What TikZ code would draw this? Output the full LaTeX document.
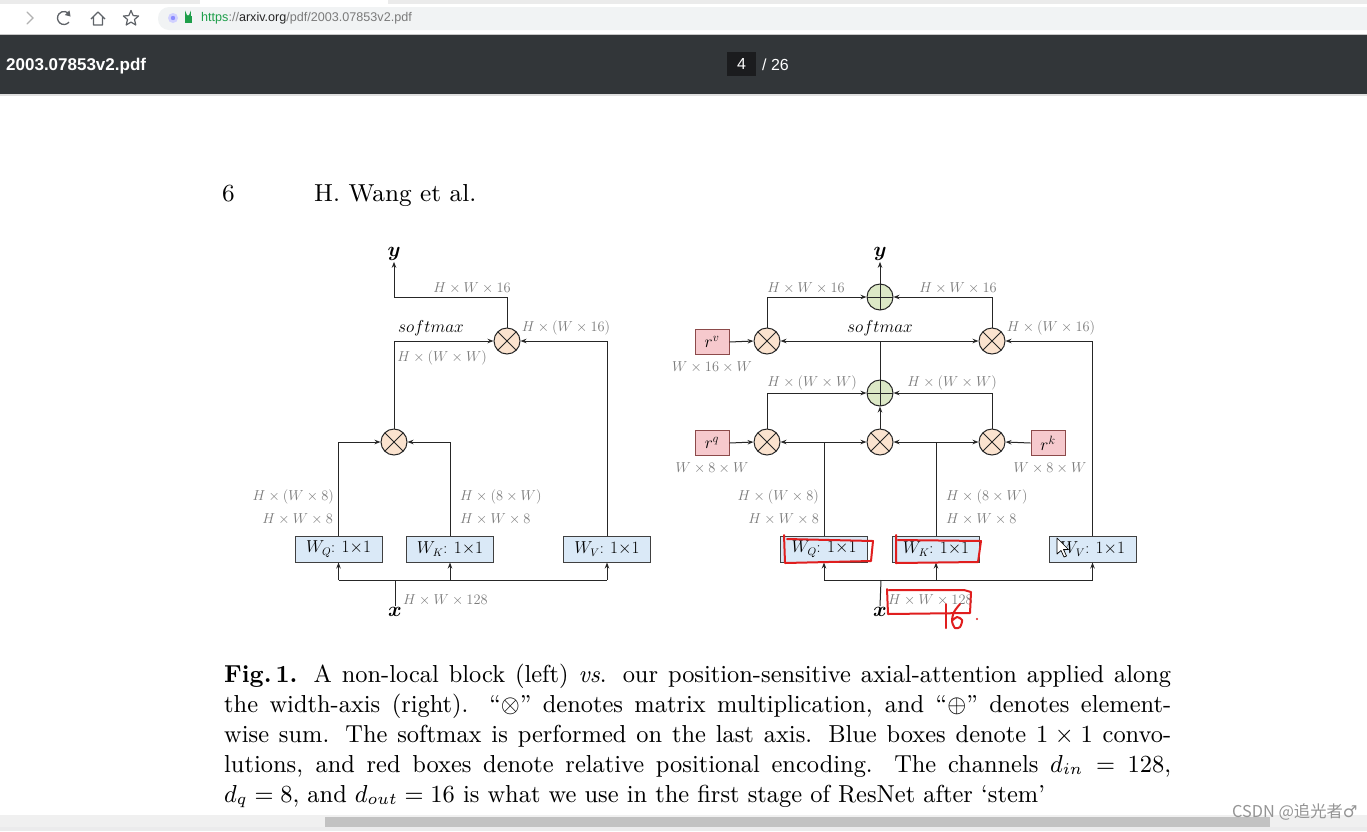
\documentclass[tikz,border=0pt]{standalone}
\usepackage{fontspec}
\usepackage{bm}
\usetikzlibrary{arrows.meta,calc}
\newfontfamily\uisans{Liberation Sans}
\newfontfamily\cjkfont{Noto Sans CJK SC}
\newfontfamily\symfont{DejaVu Sans}
\definecolor{convblue}{HTML}{DAE9F7}
\definecolor{mulfill}{HTML}{FBE3CF}
\definecolor{addfill}{HTML}{DCE8C6}
\definecolor{rpink}{HTML}{F6C9CD}
\definecolor{rdark}{HTML}{8C4A4A}
\definecolor{labgray}{HTML}{7A7A7A}
\definecolor{annored}{HTML}{E01E1E}
\definecolor{darkbar}{HTML}{323639}
\definecolor{pagebox}{HTML}{1B1C1E}
\definecolor{omni}{HTML}{F1F3F4}
\definecolor{urlgreen}{HTML}{1E9E4A}
\definecolor{urlgray}{HTML}{7A7A7A}
\definecolor{icongray}{HTML}{5F6368}
\newcommand{\capline}[1]{\scalebox{2.64}[2.73]{\fontsize{9}{11}\selectfont\makebox[358.7pt][s]{#1}}}
\newcommand{\caplast}[1]{\scalebox{2.64}[2.73]{\fontsize{9}{11}\selectfont #1}}
\newcommand{\headtxt}[1]{\scalebox{2.73}{\fontsize{9}{11}\selectfont #1}}
\begin{document}
\begin{tikzpicture}[x=1pt,y=-1pt,
  ln/.style={line width=1pt, draw=black!85},
  arr/.style={ln, -{Stealth[length=6pt,width=4.5pt]}},
  darr/.style={ln, {Stealth[length=6pt,width=4.5pt]}-{Stealth[length=6pt,width=4.5pt]}},
  conv/.style={draw=black!75, line width=1pt, fill=convblue, minimum width=87pt, minimum height=26pt, inner sep=0pt, font=\fontsize{16}{16}\selectfont},
  rbox/.style={draw=rdark, line width=1pt, fill=rpink, minimum width=34pt, minimum height=25pt, inner sep=0pt, font=\fontsize{17}{17}\selectfont},
  mul/.style={circle, draw=black!85, line width=1pt, fill=mulfill, minimum size=26pt, inner sep=0pt,
    path picture={\draw[line width=1pt, black!85] (path picture bounding box.north west) -- (path picture bounding box.south east) (path picture bounding box.north east) -- (path picture bounding box.south west);}},
  addn/.style={circle, draw=black!85, line width=1pt, fill=addfill, minimum size=26pt, inner sep=0pt,
    path picture={\draw[line width=1pt, black!85] (path picture bounding box.north) -- (path picture bounding box.south) (path picture bounding box.east) -- (path picture bounding box.west);}},
  lab/.style={text=labgray, font=\fontsize{14}{14}\selectfont, inner sep=0pt},
  sm/.style={font=\fontsize{17}{17}\selectfont, inner sep=0pt},
  io/.style={font=\fontsize{20}{20}\selectfont, inner sep=1pt},
  anno/.style={draw=annored, line width=2pt, line cap=round, line join=round},
  captxt/.style={anchor=base west, inner sep=0pt},
]
\useasboundingbox (0,0) rectangle (1367,831);
\fill[white] (0,0) rectangle (1367,831);
% ---------- browser chrome ----------
\fill[black!8] (0,0) rectangle (1367,4);
\fill[white] (200,0) rectangle (388,4);
\fill[omni] (158,7) [rounded corners=11pt] rectangle (1380,30);
\draw[black!22, line width=0.8pt] (0,34) -- (1367,34);
\draw[black!30, line width=1.3pt, line cap=round] (27,12) -- (33,18) -- (27,24);
\draw[icongray, line width=1.3pt] (64,18) ++(40:6.5) arc[start angle=40, end angle=330, radius=6.5];
\fill[icongray] (69.5,10.5) -- (70.5,16.5) -- (64.8,15) -- cycle;
\draw[icongray, line width=1.3pt, line join=round] (91,19) -- (98,12) -- (105,19) (93.5,17) -- (93.5,25) -- (102.5,25) -- (102.5,17);
\draw[icongray, line width=1.2pt, line join=round] (131,10.5) -- (133.2,15.6) -- (138.6,16.0) -- (134.5,19.5) -- (135.8,25) -- (131,22.1) -- (126.2,25) -- (127.5,19.5) -- (123.4,16.0) -- (128.8,15.6) -- cycle;
\fill[blue!18] (173,18) circle[radius=5];
\fill[blue!45] (173,18) circle[radius=2.2];
\fill[urlgreen] (184.5,16) rectangle (191.5,22.5);
\draw[urlgreen, line width=1.3pt] (185.8,16) -- (185.8,14) arc[start angle=180, end angle=0, radius=2.2] -- (190.2,16);
\node[anchor=west, inner sep=0pt, font=\uisans\fontsize{12.6}{12.6}\selectfont] (url) at (201,18)
  {\textcolor{urlgreen}{https}\textcolor{urlgray}{://}\textcolor{black!85}{arxiv.org}\textcolor{urlgray}{/pdf/2003.07853v2.pdf}};
\fill[darkbar] (0,35) rectangle (1367,94);
\fill[black!12] (0,94) rectangle (1367,96);
\node[anchor=base west, inner sep=0pt, text=white, font=\uisans\bfseries\fontsize{17}{17}\selectfont] (fname) at (6,70) {2003.07853v2.pdf};
\node[fill=pagebox, minimum width=29pt, minimum height=24pt, inner sep=0pt, text=white, font=\uisans\fontsize{16}{16}\selectfont] (pg) at (741.5,64) {4};
\node[anchor=base west, inner sep=0pt, text=white, font=\uisans\fontsize{16}{16}\selectfont] (pgtot) at (762,70) {/ 26};
% ---------- page header ----------
\node[captxt] (pnum) at (222,201) {\headtxt{6}};
\node[captxt] (runh) at (314,201) {\headtxt{H. Wang et al.}};
% ---------- left diagram ----------
\node[conv] (WQ) at (338.5,549) {$W_Q$: $1{\times}1$};
\node[conv] (WK) at (450,549) {$W_K$: $1{\times}1$};
\node[conv] (WV) at (607,549) {$W_V$: $1{\times}1$};
\node[mul] (mulL) at (394,442) {};
\node[mul] (mulT) at (507,341) {};
\node[io] (yL) at (394,254) {$\bm{y}$};
\node[io] (xL) at (395,612) {$\bm{x}$};
\coordinate (bL) at (395,580);
\coordinate (tL) at (507,297);
\draw[arr] (WQ.north) |- (mulL.west);
\draw[arr] (WK.north) |- (mulL.east);
\draw[arr] (mulL.north) |- (mulT.west);
\draw[arr] (WV.north) |- (mulT.east);
\draw[arr] (mulT.north) -- (tL) -| (yL.south);
\draw[ln] (xL.north) -- (bL);
\draw[ln] (WQ.south |- bL) -- (WV.south |- bL);
\draw[arr] (WQ.south |- bL) -- (WQ.south);
\draw[arr] (WK.south |- bL) -- (WK.south);
\draw[arr] (WV.south |- bL) -- (WV.south);
\node[lab] at (472,288) {$H\times W\times 16$};
\node[sm] at (431,328) {$softmax$};
\node[lab] at (566,328) {$H\times (W\times 16)$};
\node[lab] at (442,358) {$H\times (W\times W)$};
\node[lab, anchor=east] at (334,497) {$H\times (W\times 8)$};
\node[lab, anchor=east] at (333,519) {$H\times W\times 8$};
\node[lab, anchor=west] at (460,497) {$H\times (8\times W)$};
\node[lab, anchor=west] at (460,519) {$H\times W\times 8$};
\node[lab, anchor=west] at (403,600) {$H\times W\times 128$};
% ---------- right diagram ----------
\node[conv] (WQ2) at (824,549) {$W_Q$: $1{\times}1$};
\node[conv] (WK2) at (936,549) {$W_K$: $1{\times}1$};
\node[conv] (WV2) at (1092.5,549) {$W_V$: $1{\times}1$};
\node[mul] (mulQ) at (767,442) {};
\node[mul] (mulM) at (880,442) {};
\node[mul] (mulK) at (992,442) {};
\node[addn] (addM) at (880,393) {};
\node[mul] (mulV) at (767,341) {};
\node[mul] (mulO) at (992,341) {};
\node[addn] (addT) at (880,297) {};
\node[rbox] (rv) at (712,342) {$r^v$};
\node[rbox] (rq) at (712,443) {$r^q$};
\node[rbox] (rk) at (1048,443) {$r^k$};
\node[io] (yR) at (880,254) {$\bm{y}$};
\node[io] (xR) at (880,612) {$\bm{x}$};
\coordinate (bR) at (881,580);
\draw[arr] (rq.east) -- (mulQ.west);
\draw[arr] (rk.west) -- (mulK.east);
\draw[arr] (rv.east) -- (mulV.west);
\draw[darr] (mulQ.east) -- (mulM.west);
\draw[darr] (mulM.east) -- (mulK.west);
\draw[ln] (WQ2.north) -- (WQ2.north |- mulM);
\draw[ln] (WK2.north) -- (WK2.north |- mulM);
\draw[arr] (mulQ.north) |- (addM.west);
\draw[arr] (mulK.north) |- (addM.east);
\draw[arr] (mulM.north) -- (addM.south);
\draw[ln] (addM.north) -- (addM.north |- mulV);
\draw[darr] (mulV.east) -- (mulO.west);
\draw[arr] (WV2.north) |- (mulO.east);
\draw[arr] (mulV.north) |- (addT.west);
\draw[arr] (mulO.north) |- (addT.east);
\draw[arr] (addT.north) -- (yR.south);
\draw[ln] (xR.north) -- (bR);
\draw[ln] (WQ2.south |- bR) -- (WV2.south |- bR);
\draw[arr] (WQ2.south |- bR) -- (WQ2.south);
\draw[arr] (WK2.south |- bR) -- (WK2.south);
\draw[arr] (WV2.south |- bR) -- (WV2.south);
\node[lab] at (806,288) {$H\times W\times 16$};
\node[lab] at (958,288) {$H\times W\times 16$};
\node[sm] at (880,328) {$softmax$};
\node[lab] at (1051,328) {$H\times (W\times 16)$};
\node[lab] at (712,367) {$W\times 16\times W$};
\node[lab] at (812,383) {$H\times (W\times W)$};
\node[lab] at (952,383) {$H\times (W\times W)$};
\node[lab] at (712,468) {$W\times 8\times W$};
\node[lab] at (1050,468) {$W\times 8\times W$};
\node[lab, anchor=east] at (819,497) {$H\times (W\times 8)$};
\node[lab, anchor=east] at (819,519) {$H\times W\times 8$};
\node[lab, anchor=west] at (946,497) {$H\times (8\times W)$};
\node[lab, anchor=west] at (946,519) {$H\times W\times 8$};
\node[lab, anchor=west] at (888,600) {$H\times W\times 128$};
% ---------- hand annotations and cursor ----------
\draw[anno] (784,535) -- (785,563) -- (871,561) -- (873,541) -- (787,539);
\draw[anno] (896,535) -- (896,563) -- (978,562) -- (981,541) -- (898,540);
\draw[anno] (887,589) -- (888,614) -- (970,613) -- (971,592) -- (964,590) -- (889,590);
\draw[anno] (946,604) -- (946,628);
\draw[anno] plot[smooth] coordinates {(960,604) (954,612) (952,621) (955,628) (960,627) (962,620) (957,617) (953,620)};
\fill[annored] (977,619) circle[radius=1.2];
\draw[black, fill=white, line width=0.7pt, line join=round] (1057,538) -- (1057,554) -- (1061,550.5) -- (1064,557) -- (1066.5,556) -- (1063.5,549.5) -- (1068.5,549.5) -- cycle;
% ---------- caption ----------
\node[captxt] (c1) at (224,682) {\capline{\textbf{Fig.\,1.} A non-local block (left) \emph{vs}. our position-sensitive axial-attention applied along}};
\node[captxt] (c2) at (224,712) {\capline{the width-axis (right). ``$\otimes$'' denotes matrix multiplication, and ``$\oplus$'' denotes element-}};
\node[captxt] (c3) at (224,742) {\capline{wise sum. The softmax is performed on the last axis. Blue boxes denote $1\times 1$ convo-}};
\node[captxt] (c4) at (224,772) {\capline{lutions, and red boxes denote relative positional encoding. The channels $d_{in}=128$,}};
\node[captxt] (c5) at (224,802) {\caplast{$d_q=8$, and $d_{out}=16$ is what we use in the first stage of ResNet after `stem'}};
% ---------- scrollbar / bottom ----------
\fill[black!6] (0,815) rectangle (1367,827);
\fill[black!24] (325,816.5) rectangle (1270,826.5);
\fill[blue!6!black!8] (0,827) rectangle (1367,831);
\node[anchor=west, inner sep=0pt, text=black!42, font=\cjkfont\fontsize{16.3}{16.3}\selectfont] (wm) at (1232,812) {CSDN @追光者{\symfont ♂}};
\end{tikzpicture}
\end{document}
